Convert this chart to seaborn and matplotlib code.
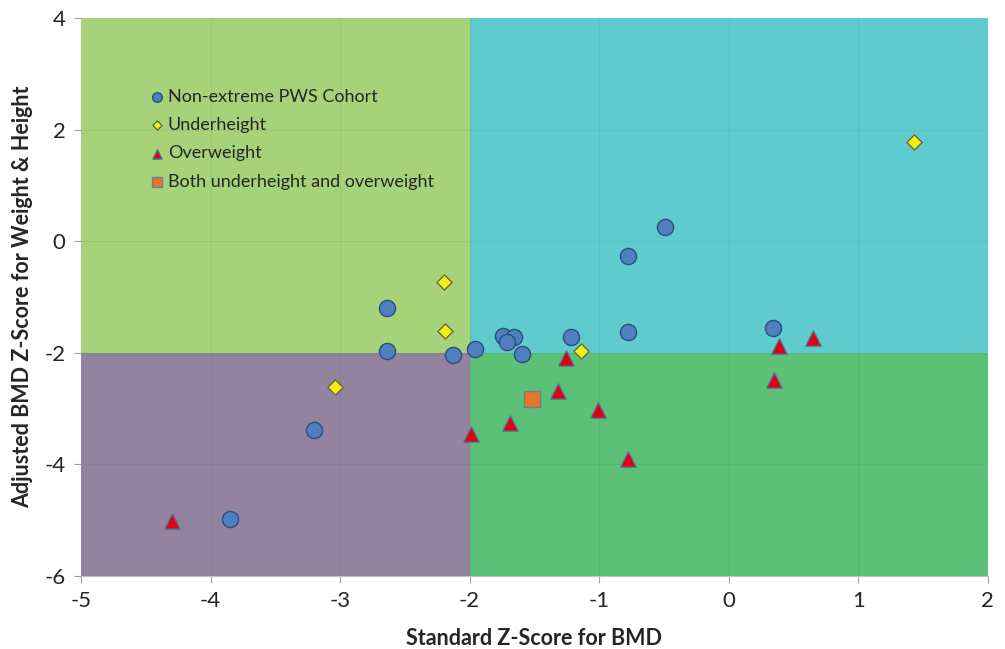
import matplotlib
matplotlib.use("Agg")
import matplotlib.pyplot as plt
import pandas as pd
import seaborn as sns

# values
cohort_x = [-2.64, -2.64, -2.13, -1.96, -1.74, -1.66, -1.71, -1.60, -1.22,
            -0.78, -0.49, -0.78, 0.34, -3.20, -3.85]
cohort_y = [-1.20, -1.97, -2.04, -1.93, -1.70, -1.72, -1.81, -2.02, -1.72,
            -0.27, 0.26, -1.63, -1.55, -3.38, -4.98]
under_x = [-2.20, -2.19, -1.14, -3.04, 1.43]
under_y = [-0.73, -1.61, -1.96, -2.61, 1.77]
over_x = [-1.26, -1.32, -1.01, -1.69, -1.99, 0.39, 0.65, 0.35, -0.78, -4.30]
over_y = [-2.10, -2.68, -3.03, -3.26, -3.46, -1.87, -1.74, -2.49, -3.90, -5.01]
both_x = [-1.52]
both_y = [-2.83]

group_names = ["Non-extreme PWS Cohort", "Underheight", "Overweight",
               "Both underheight and overweight"]

x_ticks = [-5, -4, -3, -2, -1, 0, 1, 2]
y_ticks = [-6, -4, -2, 0, 2, 4]

frames = []
for name, xs, ys in zip(group_names,
                        [cohort_x, under_x, over_x, both_x],
                        [cohort_y, under_y, over_y, both_y]):
    frames.append(pd.DataFrame({"bmd": xs, "adjusted": ys, "group": name}))
df = pd.concat(frames, ignore_index=True)

styles = {
    "Non-extreme PWS Cohort": dict(marker="o", color="#4f7fbe", edge="#2c4f7c", size=135),
    "Underheight": dict(marker="D", color="#f5ef18", edge="#6b6a3a", size=60),
    "Overweight": dict(marker="^", color="#e00012", edge="#5a6b8c", size=120),
    "Both underheight and overweight": dict(marker="s", color="#e8752a", edge="#6c7f99", size=130),
}

sns.set_style("white")
plt.rcParams["font.family"] = ["Lato", "DejaVu Sans"]
plt.rcParams["axes.unicode_minus"] = False

fig = plt.figure(figsize=(10.05, 6.49), dpi=100)
ax = fig.add_axes([0.0806, 0.1125, 0.9024, 0.8598])

# quadrant backgrounds
ax.axvspan(-5, -2, ymin=0.4, ymax=1.0, color="#a6d37a", zorder=0, lw=0)
ax.axvspan(-2, 2, ymin=0.4, ymax=1.0, color="#5fcbcf", zorder=0, lw=0)
ax.axvspan(-5, -2, ymin=0.0, ymax=0.4, color="#93839f", zorder=0, lw=0)
ax.axvspan(-2, 2, ymin=0.0, ymax=0.4, color="#5cc177", zorder=0, lw=0)

for v in x_ticks[1:-1]:
    ax.axvline(v, color="#000000", alpha=0.045, lw=1, zorder=1)
for v in y_ticks[1:-1]:
    ax.axhline(v, color="#000000", alpha=0.045, lw=1, zorder=1)

for name in group_names:
    st = styles[name]
    sns.scatterplot(data=df[df["group"] == name], x="bmd", y="adjusted",
                    marker=st["marker"], color=st["color"], edgecolor=st["edge"],
                    linewidth=1.0, s=st["size"], label=name, ax=ax, zorder=3)

ax.set_xlim(-5, 2)
ax.set_ylim(-6, 4)
ax.set_xticks(x_ticks)
ax.set_yticks(y_ticks)
ax.tick_params(axis="both", labelsize=16, length=5, color="#a0a0a0",
               direction="out", bottom=True, left=True, pad=6)
for side in ["top", "right", "left"]:
    ax.spines[side].set_visible(False)
ax.spines["bottom"].set_color("#c0c0c0")

ax.set_xlabel("Standard Z-Score for BMD", fontsize=15.5, fontweight="bold", labelpad=12)
ax.set_ylabel("Adjusted BMD Z-Score for Weight & Height", fontsize=15.5,
              fontweight="bold", labelpad=8)

leg = ax.legend(loc="upper left", bbox_to_anchor=(0.056, 0.902), frameon=False,
                fontsize=13, handletextpad=0.1, labelspacing=0.68,
                markerscale=0.6, handlelength=1.0)

fig.savefig("out.png", dpi=100)
